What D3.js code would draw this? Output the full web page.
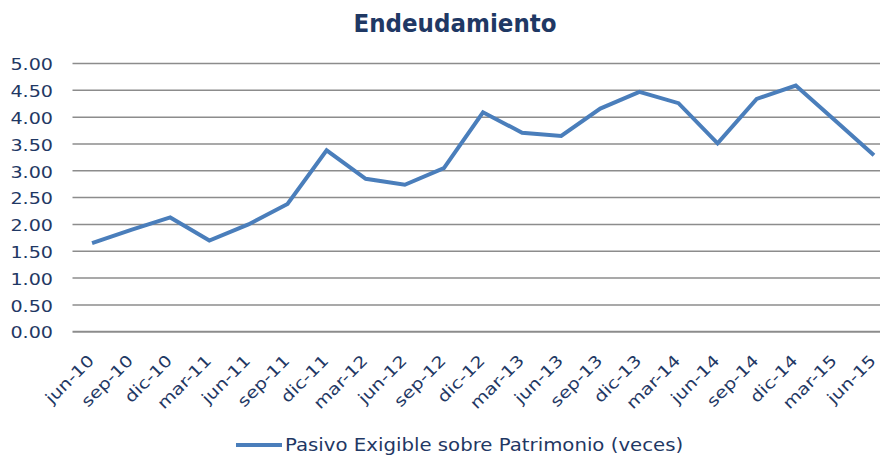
<!DOCTYPE html>
<html>
<head>
<meta charset="utf-8">
<script src="https://cdn.jsdelivr.net/npm/d3@7"></script>
<style>
    body { margin: 0; background: #fff; }
    text { font-family: "DejaVu Sans", Verdana, sans-serif; fill: #1f3864; }
</style>
</head>
<body>
<div id="chart"></div>
<script>
// Data
const periods = ["jun-10", "sep-10", "dic-10", "mar-11", "jun-11", "sep-11", "dic-11",
    "mar-12", "jun-12", "sep-12", "dic-12", "mar-13", "jun-13", "sep-13", "dic-13",
    "mar-14", "jun-14", "sep-14", "dic-14", "mar-15", "jun-15"];
const pasivoSobrePatrimonio = [1.65, 1.90, 2.13, 1.70, 2.00, 2.38, 3.38,
    2.85, 2.74, 3.05, 4.09, 3.71, 3.65, 4.16, 4.47,
    4.26, 3.51, 4.34, 4.59, 3.94, 3.29];
const yTicks = [0, 0.5, 1, 1.5, 2, 2.5, 3, 3.5, 4, 4.5, 5];
const seriesName = "Pasivo Exigible sobre Patrimonio (veces)";

const W = 880, H = 457;
const lineColor = '#4a7ebb';
// the original text is a bit wider than DejaVu, so stretch it horizontally
const stretch = 1.16;

const svg = d3.select("#chart").append("svg")
    .attr("width", W)
    .attr("height", H);

// Scales (plot runs a bit past the right edge, like the original crop)
const xScale = d3.scaleBand()
    .domain(periods)
    .range([72.5, 893.5]);

const yScale = d3.scaleLinear()
    .domain([0, 5])
    .range([331.7, 63.5]);

// Title
svg.append("text")
    .attr("transform", "translate(455,32) scale(0.92,1)")
    .attr("text-anchor", "middle")
    .style("font-size", "25px")
    .style("font-weight", "bold")
    .text("Endeudamiento");

// Gridlines
svg.append("g")
    .selectAll("line")
    .data(yTicks)
    .join("line")
    .attr("x1", 72.5)
    .attr("x2", W)
    .attr("y1", d => yScale(d))
    .attr("y2", d => yScale(d))
    .attr("stroke", "#8c8c8c")
    .attr("stroke-width", d => d === 0 ? 2 : 1.5);

// Y axis labels
const yAxis = d3.axisLeft(yScale)
    .tickValues(yTicks)
    .tickFormat(d3.format(".2f"))
    .tickSize(0)
    .tickPadding(0);

const yAxisG = svg.append("g")
    .attr("transform", "translate(53,0)")
    .call(yAxis);
yAxisG.select(".domain").remove();
yAxisG.selectAll("text")
    .style("font-size", "16.5px")
    .attr("dy", "0.38em")
    .attr("transform", `scale(${stretch},1)`);

// X axis labels, rotated
const xAxis = d3.axisBottom(xScale).tickSize(0);
const xAxisG = svg.append("g")
    .attr("transform", "translate(0,331.7)")
    .call(xAxis);
xAxisG.select(".domain").remove();
xAxisG.selectAll("text")
    .style("font-size", "16px")
    .attr("text-anchor", "end")
    .attr("dy", null)
    .attr("y", 0)
    .attr("transform", "translate(3,30) rotate(-45) scale(1.2,1)");

// Line
const line = d3.line()
    .x((d, i) => xScale(periods[i]) + xScale.bandwidth() / 2)
    .y(d => yScale(d));

svg.append("path")
    .datum(pasivoSobrePatrimonio)
    .attr("fill", "none")
    .attr("stroke", lineColor)
    .attr("stroke-width", 4)
    .attr("stroke-linejoin", "miter")
    .attr("d", line);

// Legend
const legend = svg.append("g").attr("transform", "translate(236,445)");
legend.append("line")
    .attr("x1", 0).attr("x2", 46)
    .attr("y1", 0).attr("y2", 0)
    .attr("stroke", lineColor)
    .attr("stroke-width", 4);
legend.append("text")
    .attr("transform", `translate(49,0) scale(${stretch},1)`)
    .attr("dy", "0.38em")
    .style("font-size", "17px")
    .text(seriesName);
</script>
</body>
</html>
